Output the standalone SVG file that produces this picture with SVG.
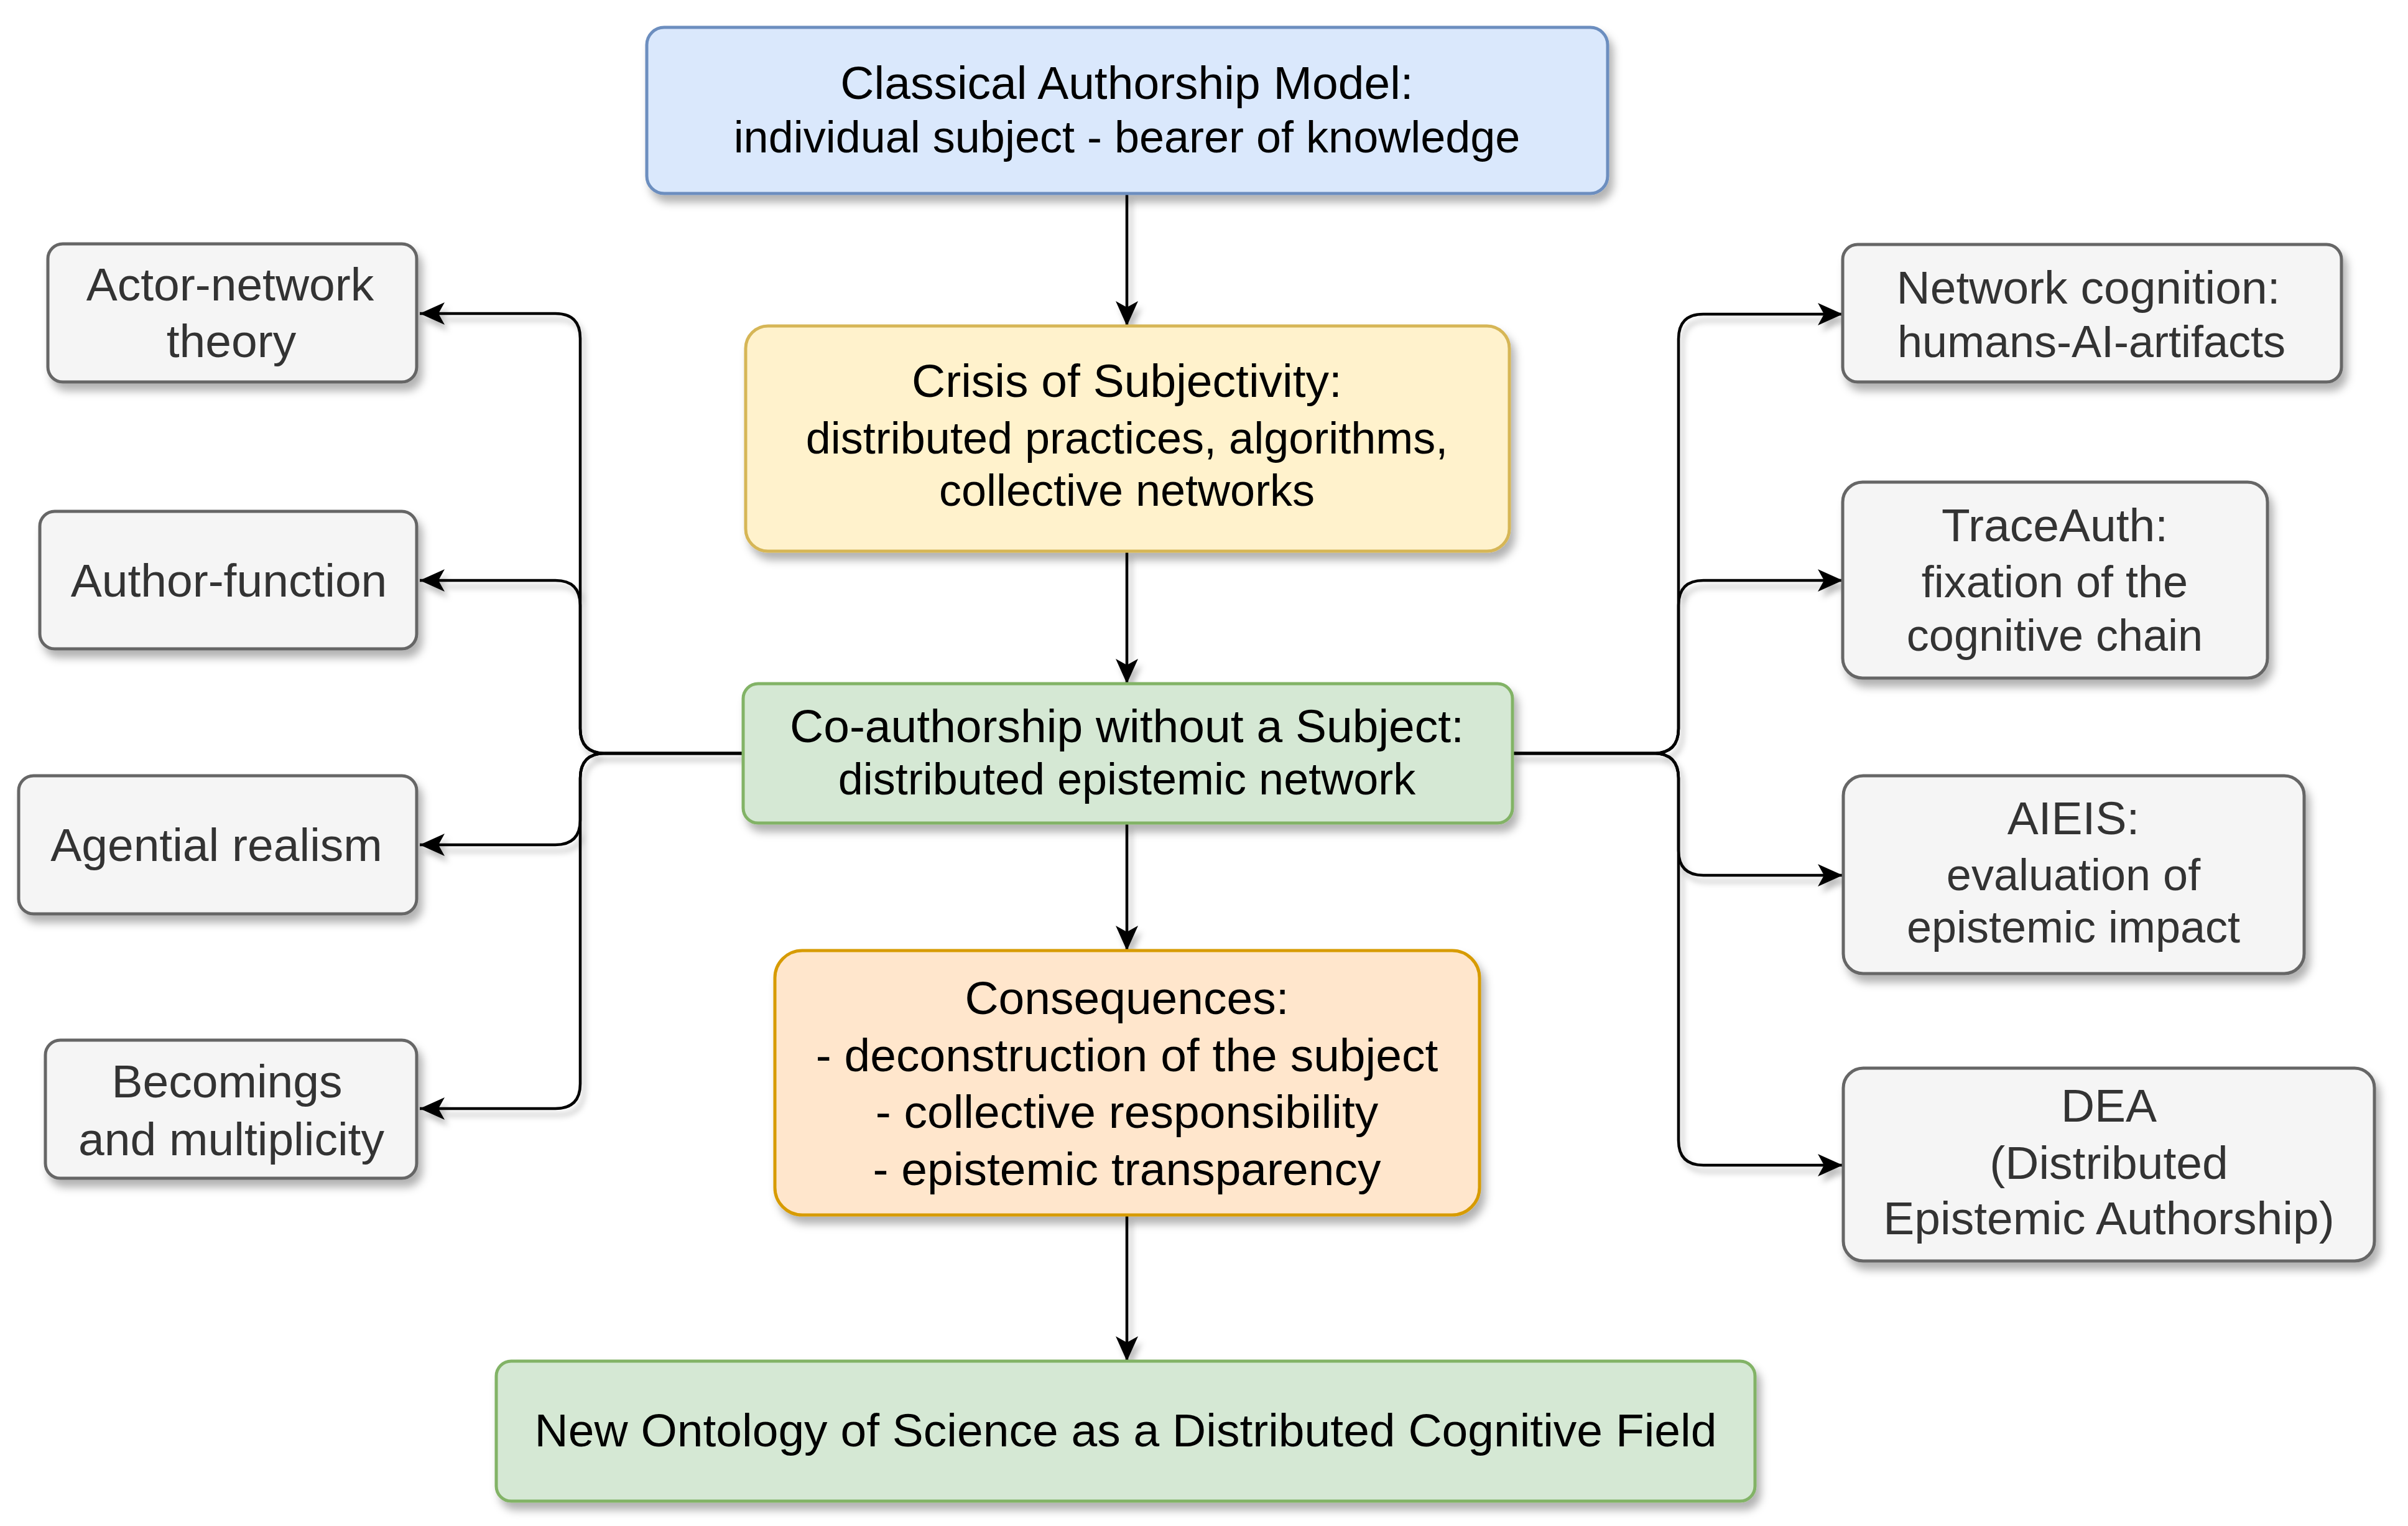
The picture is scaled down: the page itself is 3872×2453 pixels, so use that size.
<svg xmlns="http://www.w3.org/2000/svg" width="3872" height="2453" viewBox="0 0 3872 2453">
  <defs>
    <filter id="sh" x="-10%" y="-10%" width="130%" height="140%">
      <feDropShadow dx="7" dy="12" stdDeviation="7" flood-color="#000" flood-opacity="0.3"/>
    </filter>
    <filter id="lsh" x="-10%" y="-10%" width="130%" height="130%">
      <feDropShadow dx="6" dy="10" stdDeviation="5" flood-color="#000" flood-opacity="0.25"/>
    </filter>
    <marker id="arr" markerUnits="userSpaceOnUse" markerWidth="42" markerHeight="38" refX="40" refY="18" orient="auto" viewBox="0 0 42 38">
      <path d="M0,0 L40,18 L0,36 L10,18 Z" fill="#000"/>
    </marker>
  </defs>
  <style>
    text { font-family: "Liberation Sans", Arial, Helvetica, sans-serif; text-anchor: middle; }
    .t { font-size: 75px; }
    .s { font-size: 72px; }
    .main { fill: #000; }
    .side text { fill: #333; }
    .side rect { fill: #f5f5f5; stroke: #666; stroke-width: 5; }
    .conn path { fill: none; stroke: #000; stroke-width: 4.5; }
  </style>
  <rect width="3872" height="2453" fill="#fff"/>

  <g id="connectors" class="conn" filter="url(#lsh)">
    <path d="M1812,311 L1812,524" marker-end="url(#arr)"/>
    <path d="M1812,886 L1812,1099" marker-end="url(#arr)"/>
    <path d="M1812,1323 L1812,1528" marker-end="url(#arr)"/>
    <path d="M1812,1953 L1812,2188" marker-end="url(#arr)"/>
    <!-- left -->
    <path d="M1195,1211 L973,1211 Q933,1211 933,1171 L933,544 Q933,504 893,504 L675,504" marker-end="url(#arr)"/>
    <path d="M1195,1211 L973,1211 Q933,1211 933,1171 L933,973 Q933,933 893,933 L675,933" marker-end="url(#arr)"/>
    <path d="M1195,1211 L973,1211 Q933,1211 933,1251 L933,1318 Q933,1358 893,1358 L675,1358" marker-end="url(#arr)"/>
    <path d="M1195,1211 L973,1211 Q933,1211 933,1251 L933,1742 Q933,1782 893,1782 L675,1782" marker-end="url(#arr)"/>
    <!-- right -->
    <path d="M2432,1211 L2659,1211 Q2699,1211 2699,1171 L2699,545 Q2699,505 2739,505 L2963,505" marker-end="url(#arr)"/>
    <path d="M2432,1211 L2659,1211 Q2699,1211 2699,1171 L2699,973 Q2699,933 2739,933 L2963,933" marker-end="url(#arr)"/>
    <path d="M2432,1211 L2659,1211 Q2699,1211 2699,1251 L2699,1367 Q2699,1407 2739,1407 L2963,1407" marker-end="url(#arr)"/>
    <path d="M2432,1211 L2659,1211 Q2699,1211 2699,1251 L2699,1833 Q2699,1873 2739,1873 L2963,1873" marker-end="url(#arr)"/>
  </g>

  <g id="classical" class="main">
    <rect x="1040" y="44" width="1545" height="267" rx="28" fill="#dae8fc" stroke="#6c8ebf" stroke-width="5" filter="url(#sh)"/>
    <text x="1812" y="159" class="t">Classical Authorship Model:</text>
    <text x="1812" y="245" class="s">individual subject - bearer of knowledge</text>
  </g>

  <g id="crisis" class="main">
    <rect x="1199" y="524" width="1228" height="362" rx="36" fill="#fff2cc" stroke="#d6b656" stroke-width="5" filter="url(#sh)"/>
    <text x="1812" y="638" class="t">Crisis of Subjectivity:</text>
    <text x="1812" y="729" class="s">distributed practices, algorithms,</text>
    <text x="1812" y="813" class="s">collective networks</text>
  </g>

  <g id="coauthorship" class="main">
    <rect x="1195" y="1099" width="1237" height="224" rx="24" fill="#d5e8d4" stroke="#82b366" stroke-width="5" filter="url(#sh)"/>
    <text x="1812" y="1193" class="t">Co-authorship without a Subject:</text>
    <text x="1812" y="1277" class="s">distributed epistemic network</text>
  </g>

  <g id="consequences" class="main">
    <rect x="1246" y="1528" width="1133" height="425" rx="44" fill="#ffe6cc" stroke="#d79b00" stroke-width="5" filter="url(#sh)"/>
    <text x="1812" y="1630" class="t">Consequences:</text>
    <text x="1812" y="1722" class="t">- deconstruction of the subject</text>
    <text x="1812" y="1813" class="t">- collective responsibility</text>
    <text x="1812" y="1905" class="t">- epistemic transparency</text>
  </g>

  <g id="ontology" class="main">
    <rect x="798" y="2188" width="2024" height="225" rx="24" fill="#d5e8d4" stroke="#82b366" stroke-width="5" filter="url(#sh)"/>
    <text x="1810" y="2325" class="t">New Ontology of Science as a Distributed Cognitive Field</text>
  </g>

  <g id="actor-network" class="side">
    <rect x="77" y="392" width="593" height="222" rx="24" filter="url(#sh)"/>
    <text x="370" y="483" class="t">Actor-network</text>
    <text x="372" y="574" class="t">theory</text>
  </g>

  <g id="author-function" class="side">
    <rect x="64" y="822" width="606" height="221" rx="24" filter="url(#sh)"/>
    <text x="368" y="959" class="t">Author-function</text>
  </g>

  <g id="agential-realism" class="side">
    <rect x="30" y="1247" width="640" height="222" rx="24" filter="url(#sh)"/>
    <text x="348" y="1384" class="t">Agential realism</text>
  </g>

  <g id="becomings" class="side">
    <rect x="73" y="1672" width="597" height="222" rx="24" filter="url(#sh)"/>
    <text x="365" y="1764" class="t">Becomings</text>
    <text x="372" y="1857" class="t">and multiplicity</text>
  </g>

  <g id="network-cognition" class="side">
    <rect x="2963" y="393" width="802" height="221" rx="24" filter="url(#sh)"/>
    <text x="3358" y="488" class="t">Network cognition:</text>
    <text x="3363" y="574" class="s">humans-AI-artifacts</text>
  </g>

  <g id="traceauth" class="side">
    <rect x="2963" y="775" width="683" height="315" rx="32" filter="url(#sh)"/>
    <text x="3304" y="870" class="t">TraceAuth:</text>
    <text x="3304" y="960" class="s">fixation of the</text>
    <text x="3304" y="1046" class="s">cognitive chain</text>
  </g>

  <g id="aieis" class="side">
    <rect x="2964" y="1247" width="741" height="318" rx="32" filter="url(#sh)"/>
    <text x="3334" y="1341" class="t">AIEIS:</text>
    <text x="3334" y="1431" class="s">evaluation of</text>
    <text x="3334" y="1515" class="s">epistemic impact</text>
  </g>

  <g id="dea" class="side">
    <rect x="2964" y="1717" width="854" height="310" rx="32" filter="url(#sh)"/>
    <text x="3391" y="1803" class="t">DEA</text>
    <text x="3391" y="1895" class="t">(Distributed</text>
    <text x="3391" y="1984" class="t">Epistemic Authorship)</text>
  </g>
</svg>
